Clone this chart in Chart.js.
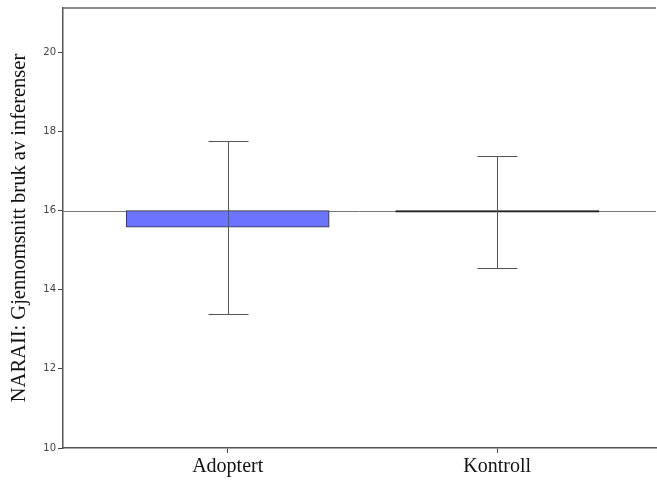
<!DOCTYPE html>
<html>
<head>
<meta charset="utf-8">
<script src="https://cdn.jsdelivr.net/npm/chart.js@4/dist/chart.umd.min.js"></script>
<style>
  html, body { margin: 0; padding: 0; background: #fff; }
  #wrap { width: 657px; height: 481px; }
</style>
</head>
<body>
<div id="wrap"><canvas id="chart"></canvas></div>
<script>
// values
const categories = ['Adoptert', 'Kontroll'];
const catPos = [0, 1];
const baseline = 16;
const means = [15.58, 15.96];
const errLow = [13.39, 14.55];
const errHigh = [17.77, 17.39];
const yTicks = [10, 12, 14, 16, 18, 20];
const barColors = ['#6b73ff', '#111111'];
const barBorders = ['#333333', '#111111'];

const serif = "'Liberation Serif', 'DejaVu Serif', serif";
const sans = "'DejaVu Sans', 'Liberation Sans', sans-serif";

const extras = {
    id: 'extras',
    beforeDatasetsDraw(chart) {
        const { ctx, chartArea, scales } = chart;
        const y = scales.y.getPixelForValue(baseline);
        ctx.save();
        ctx.strokeStyle = '#777';
        ctx.lineWidth = 1;
        ctx.beginPath();
        ctx.moveTo(chartArea.left, Math.round(y) + 0.5);
        ctx.lineTo(chartArea.right, Math.round(y) + 0.5);
        ctx.stroke();
        // top frame line
        ctx.strokeStyle = '#666';
        ctx.lineWidth = 1.5;
        ctx.beginPath();
        ctx.moveTo(chartArea.left, chartArea.top);
        ctx.lineTo(chartArea.right, chartArea.top);
        ctx.stroke();
        ctx.restore();
    },
    afterDatasetsDraw(chart) {
        const { ctx, scales } = chart;
        ctx.save();
        ctx.strokeStyle = '#555';
        ctx.lineWidth = 1;
        catPos.forEach((p, i) => {
            const x = Math.round(scales.x.getPixelForValue(p)) + 0.5;
            const yl = Math.round(scales.y.getPixelForValue(errLow[i])) + 0.5;
            const yh = Math.round(scales.y.getPixelForValue(errHigh[i])) + 0.5;
            ctx.beginPath();
            ctx.moveTo(x, yl); ctx.lineTo(x, yh);
            ctx.moveTo(x - 20, yl); ctx.lineTo(x + 20, yl);
            ctx.moveTo(x - 20, yh); ctx.lineTo(x + 20, yh);
            ctx.stroke();
        });
        ctx.restore();
    }
};

new Chart(document.getElementById('chart'), {
    type: 'bar',
    data: {
        datasets: [{
            data: catPos.map((p, i) => ({ x: p, y: [baseline, means[i]] })),
            backgroundColor: barColors,
            borderColor: barBorders,
            borderWidth: 1,
            borderSkipped: false,
            barThickness: 203
        }]
    },
    options: {
        responsive: true,
        maintainAspectRatio: false,
        animation: false,
        layout: { padding: { top: 7, right: 1, left: 0, bottom: 0 } },
        plugins: { legend: { display: false }, tooltip: { enabled: false } },
        scales: {
            x: {
                type: 'linear',
                offset: false,
                min: -0.611,
                max: 1.589,
                afterBuildTicks: s => { s.ticks = catPos.map(v => ({ value: v })); },
                afterFit: s => { s.height = 33; },
                grid: { drawOnChartArea: false, offset: false, tickLength: 5, color: '#444' },
                border: { color: '#555', width: 1.5 },
                ticks: {
                    color: '#111',
                    font: { family: serif, size: 20 },
                    padding: 2,
                    maxRotation: 0,
                    callback: v => categories[catPos.indexOf(v)]
                }
            },
            y: {
                min: 10,
                max: 21.12,
                afterBuildTicks: s => { s.ticks = yTicks.map(v => ({ value: v })); },
                afterFit: s => { s.width = 63; },
                grid: { drawOnChartArea: false, tickLength: 5, color: '#444' },
                border: { color: '#555', width: 1.5 },
                ticks: {
                    color: '#444',
                    font: { family: sans, size: 10 },
                    padding: 2
                },
                title: {
                    display: true,
                    text: 'NARAII: Gjennomsnitt bruk av inferenser',
                    color: '#111',
                    font: { family: serif, size: 20.5 },
                    padding: { top: 7, bottom: 0 }
                }
            }
        }
    },
    plugins: [extras]
});
</script>
</body>
</html>
